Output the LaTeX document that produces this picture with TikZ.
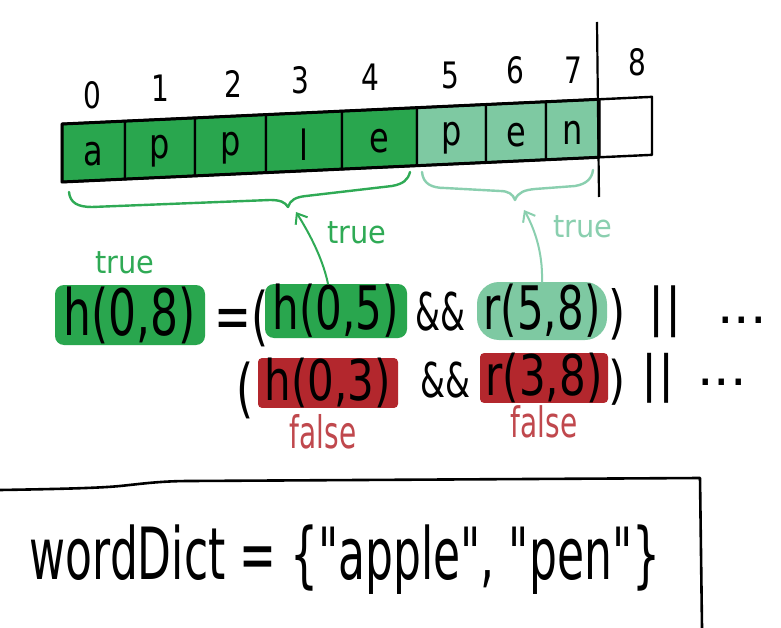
\documentclass[tikz,border=0pt]{standalone}
\usepackage{fontspec}
\usepackage{graphicx}
\setmainfont{DejaVu Sans}
\usetikzlibrary{arrows.meta}
\definecolor{dgreen}{HTML}{29A64E}
\definecolor{lgreen}{HTML}{7EC9A2}
\definecolor{dred}{HTML}{B3272D}
\definecolor{tgreen}{HTML}{2FAA55}
\definecolor{tlight}{HTML}{8ACFAF}
\definecolor{tred}{HTML}{C0484D}
\newcommand{\hwtext}[3]{\scalebox{#1}[#2]{#3}}
\begin{document}
\begin{tikzpicture}[x=1pt,y=-1pt,
  formula/.style={font=\fontsize{40}{40}\selectfont, inner sep=0pt, text=black},
  hlbox/.style={formula, rounded corners=9pt},
  cellchar/.style={font=\fontsize{32}{32}\selectfont, inner sep=0pt},
  digit/.style={font=\fontsize{28}{28}\selectfont, inner sep=0pt},
  small/.style={font=\fontsize{24}{24}\selectfont, inner sep=0pt},
  falsetext/.style={font=\fontsize{28}{28}\selectfont, inner sep=0pt, text=tred},
  bracepath/.style={line width=2.4pt, line cap=round, line join=round},
  arr/.style={line width=2pt, line cap=round, -{Straight Barb[length=9pt,width=14pt,line width=2pt]}},
  cellline/.style={draw=black, line width=2.4pt, line join=round}
]
\useasboundingbox (0,0) rectangle (781,628);
\fill[white] (0,0) rectangle (781,628);

% array cells
\foreach \xa/\xb/\col in {62/125/dgreen,125/195/dgreen,195/266/dgreen,266/342/dgreen,342/417/dgreen,417/486/lgreen,486/546/lgreen,546/599/lgreen,599/652/white}
  \filldraw[fill=\col, cellline] (\xa,{124-0.046*(\xa-62)}) -- (\xb,{124-0.046*(\xb-62)}) -- (\xb,{182-0.046*(\xb-62)}) -- (\xa,{182-0.046*(\xa-62)}) -- cycle;
\draw[line width=3pt, line join=round] (62,124) -- (599,99.3) -- (599,157.3) -- (62,182) -- cycle;

% letters in the cells
\foreach \l/\xa/\xb/\i in {a/62/125/0,p/125/195/1,p/195/266/2,l/266/342/3,e/342/417/4,p/417/486/5,e/486/546/6,n/546/599/7}
  \node[cellchar] (c\i) at ({(\xa+\xb)/2},{156-0.046*((\xa+\xb)/2-62)}) {\hwtext{1}{1.3}{\l}};

% indices
\foreach \d/\x/\y in {0/92/95,1/160/88,2/233/84,3/300/80,4/370/77,5/450/75,6/515/70,7/573/70,8/637/62}
  \node[digit] (n\d) at (\x,\y) {\hwtext{1}{1.3}{\d}};

% split line
\coordinate (vtop) at (597,22);
\coordinate (vbot) at (599,197);
\draw[line width=2.2pt] (vtop) -- (vbot);

% braces
\draw[bracepath, tgreen] (69,192) .. controls (70,203) and (78,207) .. (92,207) -- (270,200) .. controls (280,200) and (285,202) .. (288,207) .. controls (290,200) and (296,197) .. (306,196) -- (392,186) .. controls (403,184) and (408,180) .. (410,172);
\draw[bracepath, tlight] (422,172) .. controls (423,184) and (432,188) .. (445,188) -- (500,191) .. controls (508,191) and (513,194) .. (515,200) .. controls (518,192) and (525,190) .. (535,189) -- (575,186) .. controls (587,184) and (592,178) .. (593,170);

% first equation row
\node[hlbox, fill=dgreen, minimum width=150, minimum height=60] (h08) at (130,315) {\hwtext{1.1}{1.6}{h(0,8)}};
\node[hlbox, fill=dgreen, minimum width=142, minimum height=54] (h05) at (336,311) {\hwtext{1.05}{1.5}{h(0,5)}};
\node[hlbox, fill=lgreen, rounded corners=22pt, minimum width=130, minimum height=58] (r58) at (542,311) {\hwtext{1.05}{1.5}{r(5,8)}};
\node[formula] (eq1) at (242,318) {\hwtext{1.1}{1.6}{=(}};
\node[formula] (and1) at (440,312) {\hwtext{0.8}{1.3}{\&\&}};
\node[formula] (cl1) at (617,314) {\hwtext{1.1}{1.45}{)}};
\node[formula] (or1) at (665,312) {\hwtext{1.2}{1.3}{||}};
\node[formula] (dots1) at (742,320) {\hwtext{1.3}{1.3}{...}};

\node[small, text=tgreen] (t08) at (125,263) {\hwtext{1.2}{1.3}{true}};
\node[small, text=tgreen] (t05) at (357,233) {\hwtext{1.2}{1.3}{true}};
\node[small, text=tlight] (t58) at (583,227) {\hwtext{1.2}{1.3}{true}};

% arrows
\coordinate (tip1) at (296,212);
\coordinate (tip2) at (524,210);
\draw[arr, tgreen] ([xshift=-8pt]h05.north) .. controls (322,255) and (306,228) .. (tip1);
\draw[arr, tlight] (r58.north) .. controls (543,250) and (533,226) .. (tip2);

% second equation row
\node[hlbox, fill=dred, rounded corners=4pt, minimum width=140, minimum height=48] (h03) at (328,383) {\hwtext{1.05}{1.4}{h(0,3)}};
\node[hlbox, fill=dred, rounded corners=4pt, minimum width=128, minimum height=46] (r38) at (544,378) {\hwtext{1.05}{1.4}{r(3,8)}};
\node[formula] (op2) at (245,390) {\hwtext{1.1}{1.6}{(}};
\node[formula] (and2) at (445,380) {\hwtext{0.8}{1.2}{\&\&}};
\node[formula] (cl2) at (617,382) {\hwtext{1.1}{1.3}{)}};
\node[formula] (or2) at (658,378) {\hwtext{1.2}{1.25}{||}};
\node[formula] (dots2) at (722,382) {\hwtext{1.3}{1.3}{...}};

\node[falsetext] (f03) at (323,432) {\hwtext{1}{1.6}{false}};
\node[falsetext] (f38) at (544,422) {\hwtext{1}{1.5}{false}};

% dictionary box
\draw[line width=2.6pt, line join=round] (0,490) .. controls (60,489) and (100,488) .. (120,486) .. controls (140,484) and (160,481) .. (190,481) -- (700,478) -- (702,628);
\node[formula] (dict) at (345,560) {\hwtext{1.1}{1.8}{wordDict = \{\textquotedbl apple\textquotedbl, \textquotedbl pen\textquotedbl\}}};
\end{tikzpicture}
\end{document}
